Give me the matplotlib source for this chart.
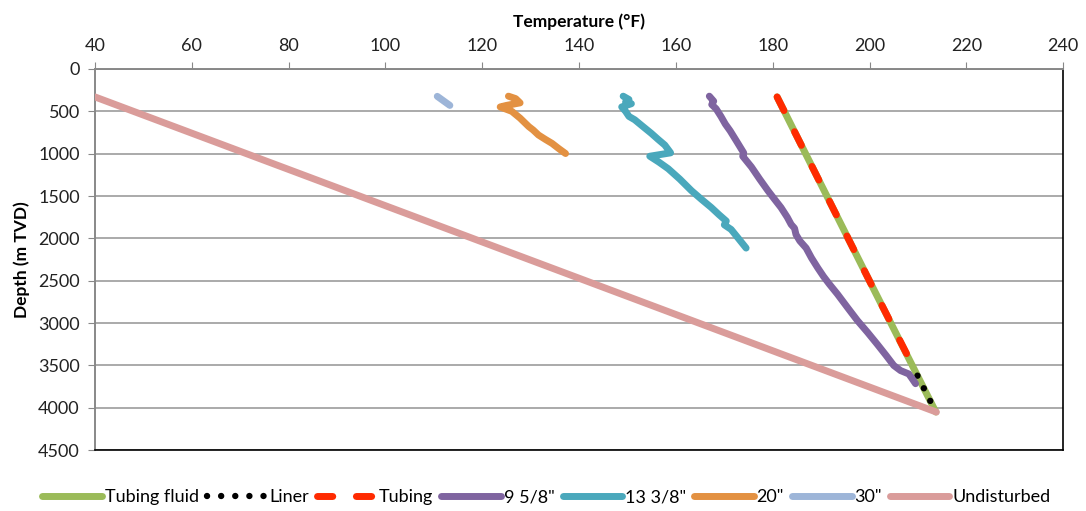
import matplotlib
matplotlib.use("Agg")
import matplotlib.pyplot as plt

plt.rcParams["font.family"] = ["Lato", "DejaVu Sans"]

# Temperature (degF) vs depth (m TVD) for each string
tubing_fluid_t = [180.9, 199.9, 213.7]
tubing_fluid_d = [330, 2492, 4050]

tubing_t = [180.9, 199.9, 209.6]
tubing_d = [330, 2492, 3580]

liner_t = [209.9, 213.7]
liner_d = [3620, 4050]

c958_t = [166.9, 167.8, 167.4, 168.3, 169.3, 170.2, 171.2, 172.5, 174.0, 173.8,
          175.6, 177.3, 179.0, 180.4, 181.7, 183.0, 183.8, 184.5, 184.8, 185.6,
          186.9, 188.0, 189.3, 190.5, 191.7, 193.4, 195.5, 197.5, 199.6, 201.6,
          203.4, 205.0, 206.4, 208.1, 208.6, 209.5]
c958_d = [321, 380, 420, 470, 560, 650, 730, 850, 990, 1030,
          1157, 1300, 1436, 1540, 1635, 1750, 1835, 1880, 1954, 2030,
          2114, 2230, 2348, 2450, 2540, 2660, 2820, 2970, 3110, 3250,
          3380, 3500, 3560, 3600, 3640, 3715]

c1338_t = [149.1, 150.3, 149.6, 150.8, 148.8, 149.6, 150.3, 151.5, 153.2, 154.9,
           156.3, 157.7, 158.9, 154.6, 156.5, 158.4, 160.8, 163.2, 165.3, 167.3,
           168.9, 170.4, 170.0, 171.4, 172.9, 174.5]
c1338_d = [321, 360, 390, 410, 448, 500, 560, 600, 680, 759,
           830, 898, 990, 1030, 1100, 1177, 1300, 1436, 1540, 1635,
           1720, 1795, 1840, 1894, 2000, 2114]

c20_t = [125.4, 126.9, 127.8, 125.0, 123.7, 126.1, 127.8, 129.6, 130.5, 131.6,
         133.0, 134.4, 135.8, 137.2]
c20_d = [321, 350, 400, 430, 448, 500, 580, 680, 720, 779,
         830, 878, 940, 998]

c30_t = [110.7, 113.3]
c30_d = [323, 430]

undisturbed_t = [40, 213.8]
undisturbed_d = [330, 4050]

fig = plt.figure(figsize=(10.86, 5.11), dpi=100)
ax = fig.add_axes([0.0875, 0.119, 0.8915, 0.746])

lw = 5.0
kw = dict(solid_capstyle="round", dash_capstyle="round", solid_joinstyle="round")

ax.plot(tubing_fluid_t, tubing_fluid_d, color="#9BBB59", lw=lw, label="Tubing fluid", zorder=3, **kw)
ax.plot(liner_t, liner_d, color="black", lw=4.6, linestyle=(0, (0.01, 2.2)),
        label="Liner", zorder=4, **kw)
ax.plot(tubing_t, tubing_d, color="#FF2A00", lw=lw, linestyle=(0, (2.2, 3.4)),
        label="Tubing", zorder=4, **kw)
ax.plot(c958_t, c958_d, color="#7F64A0", lw=lw, label='9 5/8"', zorder=5, **kw)
ax.plot(c1338_t, c1338_d, color="#4AA8BC", lw=lw, label='13 3/8"', zorder=5, **kw)
ax.plot(c20_t, c20_d, color="#E39142", lw=lw, label='20"', zorder=5, **kw)
ax.plot(c30_t, c30_d, color="#9DB5D8", lw=lw, label='30"', zorder=5, **kw)
ax.plot(undisturbed_t, undisturbed_d, color="#DA9C9A", lw=lw, label="Undisturbed", zorder=6, **kw)

ax.set_xlim(40, 240)
ax.set_ylim(4500, 0)
ax.set_xticks(range(40, 241, 20))
ax.set_yticks(range(0, 4501, 500))
ax.xaxis.tick_top()
ax.xaxis.set_label_position("top")
ax.tick_params(axis="both", direction="out", length=5, color="#888888",
               labelsize=13, labelcolor="#222222")
ax.tick_params(axis="x", pad=6)
ax.tick_params(axis="y", pad=6)
ax.grid(axis="y", color="#AAAAAA", lw=1.4)
ax.set_axisbelow(True)

for side in ("left", "top"):
    ax.spines[side].set_color("#888888")
    ax.spines[side].set_linewidth(1.4)
for side in ("right", "bottom"):
    ax.spines[side].set_color("black")
    ax.spines[side].set_linewidth(1.2)

ax.set_xlabel("Temperature (°F)", fontsize=12.5, fontweight="bold", labelpad=8)
ax.set_ylabel("Depth (m TVD)", fontsize=12.5, fontweight="bold", labelpad=6)

handles, labels = ax.get_legend_handles_labels()
fig.legend(handles, labels, loc="center", bbox_to_anchor=(0.503, 0.027), ncol=8,
           frameon=False, handlelength=3.3, handletextpad=0.15, columnspacing=0.45,
           prop={"size": 13})

fig.savefig("out.png", dpi=100)
